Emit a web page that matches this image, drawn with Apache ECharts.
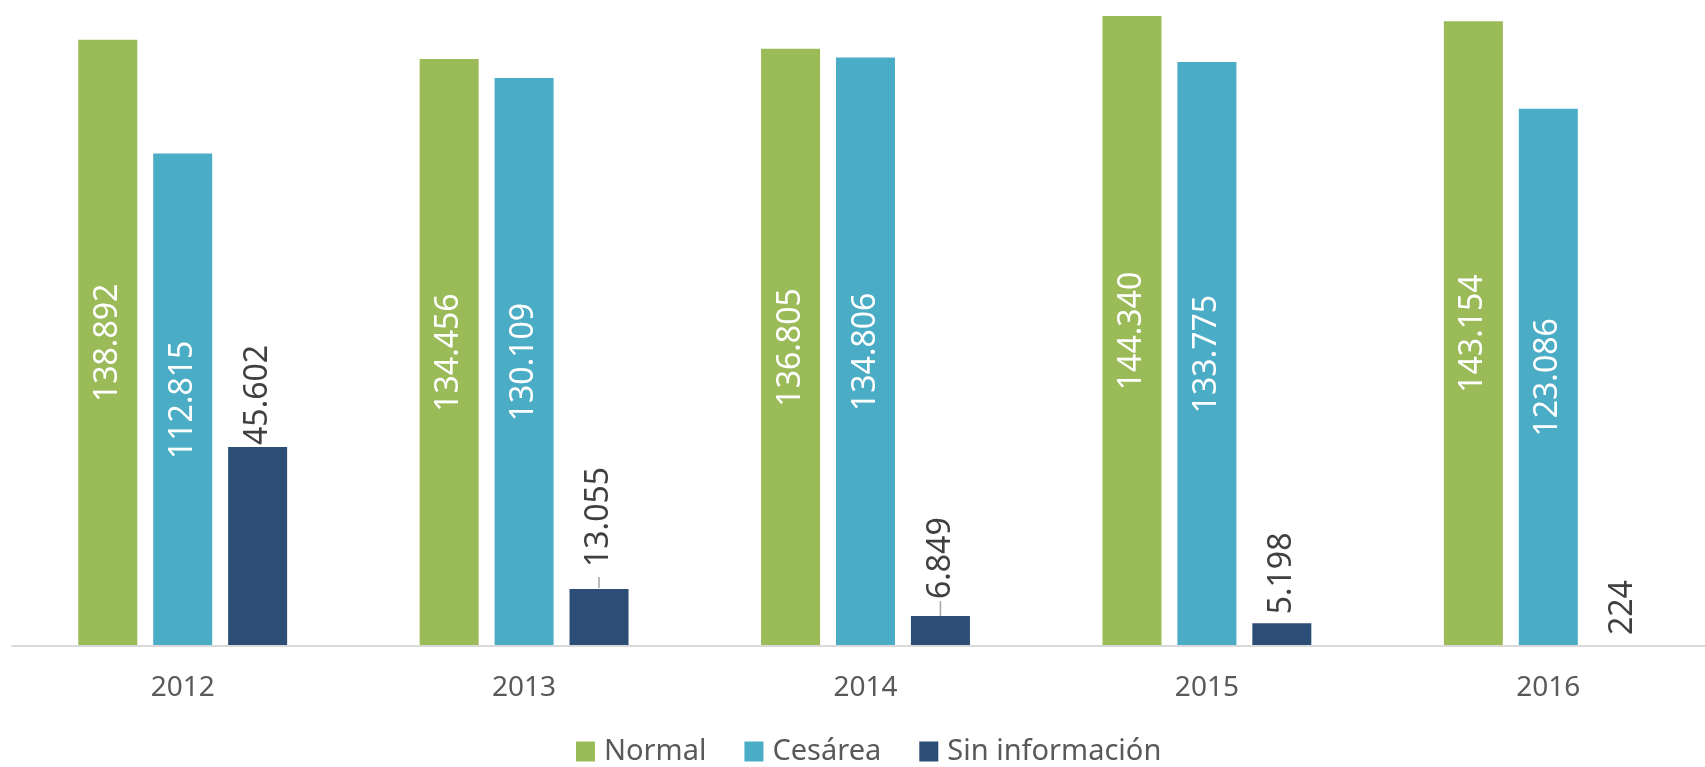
<!DOCTYPE html>
<html>
<head>
<meta charset="utf-8">
<script src="https://cdn.jsdelivr.net/npm/echarts@6/dist/echarts.min.js"></script>
<style>
html, body { margin: 0; padding: 0; background: #fff; }
#chart { width: 1705px; height: 767px; }
</style>
</head>
<body>
<div id="chart"></div>
<script>
var years = ['2012', '2013', '2014', '2015', '2016'];
var normal = [138892, 134456, 136805, 144340, 143154];
var cesarea = [112815, 130109, 134806, 133775, 123086];
var sinInfo = [45602, 13055, 6849, 5198, 224];

// etiquetas con separador de miles "."
function fmt(v) {
    return String(v).replace(/\B(?=(\d{3})+(?!\d))/g, '.');
}

var font = '"Noto Sans", sans-serif';

// separación de las etiquetas de "Sin información" y largo de la guía (px)
var labelDist = [2, 1, 0, 9, 10];
var guideLen = [0, 11, 15, 0, 0];
var guideGap = [0, 10, 2, 0, 0];

var insideLabel = {
    show: true,
    position: 'inside',
    rotate: 90,
    color: '#fff',
    fontSize: 32,
    fontFamily: font,
    formatter: function (p) { return fmt(p.value); }
};

var sinData = sinInfo.map(function (v, i) {
    var item = { value: v, label: { distance: labelDist[i] } };
    if (guideLen[i] > 0) {
        item.label.formatter = '{g|}{v|' + fmt(v) + '}';
        item.label.rich = {
            g: { width: guideLen[i], height: 1.5, backgroundColor: '#a6a6a6' },
            v: { fontSize: 32, fontFamily: font, color: '#404040', padding: [0, 0, 0, guideGap[i]] }
        };
    }
    return item;
});

var myChart = echarts.init(document.getElementById('chart'));
var option = {
    animation: false,
    grid: { left: 12, width: 1707, top: 0, bottom: 121, outerBoundsMode: 'none', containLabel: false },
    legend: {
        left: 571,
        top: 732,
        itemWidth: 19,
        itemHeight: 20,
        itemGap: 38,
        icon: 'rect',
        textStyle: { color: '#595959', fontSize: 29, fontFamily: font, padding: [0, 0, 0, 4] },
        data: ['Normal', 'Cesárea', 'Sin información']
    },
    xAxis: {
        type: 'category',
        data: years,
        z: 3,
        axisLine: { lineStyle: { color: '#d9d9d9', width: 2 } },
        axisTick: { show: false },
        axisLabel: { color: '#595959', fontSize: 28, fontFamily: font, margin: 28 }
    },
    yAxis: {
        type: 'value',
        min: 0,
        max: 148000,
        show: false,
        splitLine: { show: false }
    },
    series: [
        {
            name: 'Normal', type: 'bar', data: normal, barWidth: 59, barGap: '27%',
            itemStyle: { color: '#9BBB59' }, label: insideLabel
        },
        {
            name: 'Cesárea', type: 'bar', data: cesarea, barWidth: 59, barGap: '27%',
            itemStyle: { color: '#4BACC6' }, label: insideLabel
        },
        {
            name: 'Sin información', type: 'bar', data: sinData, barWidth: 59, barGap: '27%',
            itemStyle: { color: '#2C4D75' },
            label: {
                show: true,
                position: 'top',
                rotate: 90,
                align: 'left',
                verticalAlign: 'middle',
                color: '#404040',
                fontSize: 32,
                fontFamily: font,
                formatter: function (p) { return fmt(p.value); }
            }
        }
    ]
};
myChart.setOption(option);
</script>
</body>
</html>
